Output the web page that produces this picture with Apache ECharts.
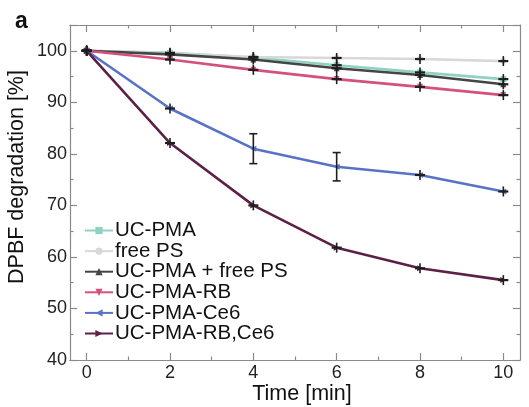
<!DOCTYPE html>
<html><head><meta charset="utf-8">
<script src="https://cdn.jsdelivr.net/npm/echarts@6/dist/echarts.min.js"></script>
<style>html,body{margin:0;padding:0;background:#fff}#c{width:529px;height:407px}</style>
</head><body><div id="c"></div>
<script>
const times = [0, 2, 4, 6, 8, 10];
const seriesNames = ['UC-PMA', 'free PS', 'UC-PMA + free PS', 'UC-PMA-RB', 'UC-PMA-Ce6', 'UC-PMA-RB,Ce6'];
const ucPma      = [100, 99.6, 98.7, 97.2, 95.8, 94.5];
const freePS     = [100, 99.5, 98.8, 98.6, 98.4, 98.0];
const ucPmaFree  = [100, 99.3, 98.3, 96.6, 95.3, 93.5];
const ucPmaRB    = [100, 98.3, 96.3, 94.5, 93.0, 91.4];
const ucPmaCe6   = [100, 88.8, 81.0, 77.5, 75.9, 72.7];
const ucPmaRBCe6 = [100, 82.1, 70.0, 61.8, 57.8, 55.5];
const errUcPma      = [0.3, 0.3, 0.3, 0.4, 0.4, 0.4];
const errFreePS     = [0.3, 0.3, 0.3, 0.3, 0.3, 0.3];
const errUcPmaFree  = [0.3, 0.4, 0.5, 1.1, 0.6, 0.5];
const errUcPmaRB    = [0.3, 0.4, 0.4, 0.4, 0.4, 0.4];
const errUcPmaCe6   = [0.3, 0.4, 2.9, 2.75, 0.4, 0.4];
const errUcPmaRBCe6 = [0.3, 0.3, 0.4, 0.3, 0.3, 0.3];
const xTickLabels = ['0', '2', '4', '6', '8', '10'];
const xMinorTicks = [1, 3, 5, 7, 9];
const yTickLabels = ['40', '50', '60', '70', '80', '90', '100'];
const xTitle = 'Time [min]';
const yTitle = 'DPBF degradation [%]';

const values = [ucPma, freePS, ucPmaFree, ucPmaRB, ucPmaCe6, ucPmaRBCe6];
const errs = [errUcPma, errFreePS, errUcPmaFree, errUcPmaRB, errUcPmaCe6, errUcPmaRBCe6];
const colors = ['#8fd2c2', '#d8d8d8', '#454545', '#d3517c', '#5873c6', '#5c2147'];
const symbols = ['rect', 'circle', 'triangle', 'triangle', 'triangle', 'triangle'];
const rotates = [0, 0, 0, 180, 90, -90];

const chart = echarts.init(document.getElementById('c'), null, {renderer: 'canvas'});
const FONT = 'Liberation Sans';
const axisLineStyle = {color: '#8a8a8a', width: 1.2};

const lineSeries = values.map((v, i) => ({
  name: seriesNames[i],
  type: 'line',
  data: times.map((t, j) => [t, v[j]]),
  symbol: symbols[i],
  symbolRotate: rotates[i],
  symbolSize: 6,
  lineStyle: {color: colors[i], width: 2.6},
  itemStyle: {color: colors[i]},
  z: 2 + i
}));

const errSeries = values.map((v, i) => ({
  name: seriesNames[i],
  type: 'custom',
  z: 20,
  silent: true,
  data: times.map((t, j) => [t, v[j], errs[i][j]]),
  renderItem: function (params, api) {
    const x = api.value(0), y = api.value(1), e = api.value(2);
    const p = api.coord([x, y]);
    const hi = api.coord([x, y + e]);
    const lo = api.coord([x, y - e]);
    const style = {stroke: '#1e1e1e', lineWidth: 1.6};
    const children = [];
    if (e > 1.5) {
      children.push({type: 'line', shape: {x1: p[0], y1: hi[1], x2: p[0], y2: lo[1]}, style});
      children.push({type: 'line', shape: {x1: p[0] - 4, y1: hi[1], x2: p[0] + 4, y2: hi[1]}, style});
      children.push({type: 'line', shape: {x1: p[0] - 4, y1: lo[1], x2: p[0] + 4, y2: lo[1]}, style});
    } else {
      const top = Math.min(hi[1], p[1] - 5), bot = Math.max(lo[1], p[1] + 5);
      children.push({type: 'line', shape: {x1: p[0], y1: top, x2: p[0], y2: bot}, style});
      children.push({type: 'line', shape: {x1: p[0] - 5, y1: p[1], x2: p[0] + 5, y2: p[1]}, style: {stroke: '#1e1e1e', lineWidth: 2.2}});
    }
    return {type: 'group', children};
  }
}));

const xMajor = xTickLabels.map(Number);
const yLabelSet = new Set(yTickLabels);

function xAxisDef(pos, custom, len, withLabels) {
  const ax = {
    type: 'value', min: -0.4, max: 10.4, position: pos,
    axisLine: {show: true, onZero: false, lineStyle: axisLineStyle},
    axisTick: {show: true, inside: true, length: len, lineStyle: axisLineStyle, customValues: custom},
    axisLabel: {show: false},
    splitLine: {show: false}
  };
  if (withLabels) {
    ax.axisLabel = {show: true, customValues: custom, fontFamily: FONT, fontSize: 18, color: '#222', margin: 4};
  }
  return ax;
}

const baseY = {
  type: 'value', min: 40, max: 105, interval: 10,
  axisLine: {show: true, onZero: false, lineStyle: axisLineStyle},
  axisTick: {show: true, inside: true, length: 7, lineStyle: axisLineStyle},
  minorTick: {show: true, splitNumber: 2, length: 3.5, lineStyle: axisLineStyle},
  splitLine: {show: false}, minorSplitLine: {show: false}
};

chart.setOption({
  animation: false,
  textStyle: {fontFamily: FONT},
  grid: {left: 70, right: 9, top: 25, bottom: 47, containLabel: false, outerBoundsMode: 'none'},
  legend: {
    orient: 'vertical', left: 79, top: 215,
    itemWidth: 28, itemHeight: 9, itemGap: -0.4,
    textStyle: {fontFamily: FONT, fontSize: 20.5, color: '#111', lineHeight: 19, padding: [0, 0, 0, -3]},
    data: seriesNames.map((n) => ({name: n}))
  },
  xAxis: [
    xAxisDef('bottom', xMajor, 7, true),
    xAxisDef('bottom', xMinorTicks, 3.5, false),
    xAxisDef('top', xMajor, 7, false),
    xAxisDef('top', xMinorTicks, 3.5, false)
  ],
  yAxis: [
    Object.assign({}, baseY, {
      position: 'left',
      axisLabel: {fontFamily: FONT, fontSize: 18, color: '#222', margin: 3,
        formatter: (v) => yLabelSet.has(String(v)) ? String(v) : ''}
    }),
    Object.assign({}, baseY, {position: 'right', axisLabel: {show: false}})
  ],
  graphic: [
    {type: 'text', left: 15, top: 10, style: {text: 'a', font: 'bold 23px "Liberation Sans"', fill: '#111'}},
    {type: 'text', x: 302, y: 394, style: {text: xTitle, font: '21.5px "Liberation Sans"', fill: '#111', align: 'center', verticalAlign: 'middle'}},
    {type: 'text', x: 17, y: 177, rotation: Math.PI / 2, style: {text: yTitle, font: '21.5px "Liberation Sans"', fill: '#111', align: 'center', verticalAlign: 'middle'}}
  ],
  series: lineSeries.concat(errSeries)
});
</script></body></html>
